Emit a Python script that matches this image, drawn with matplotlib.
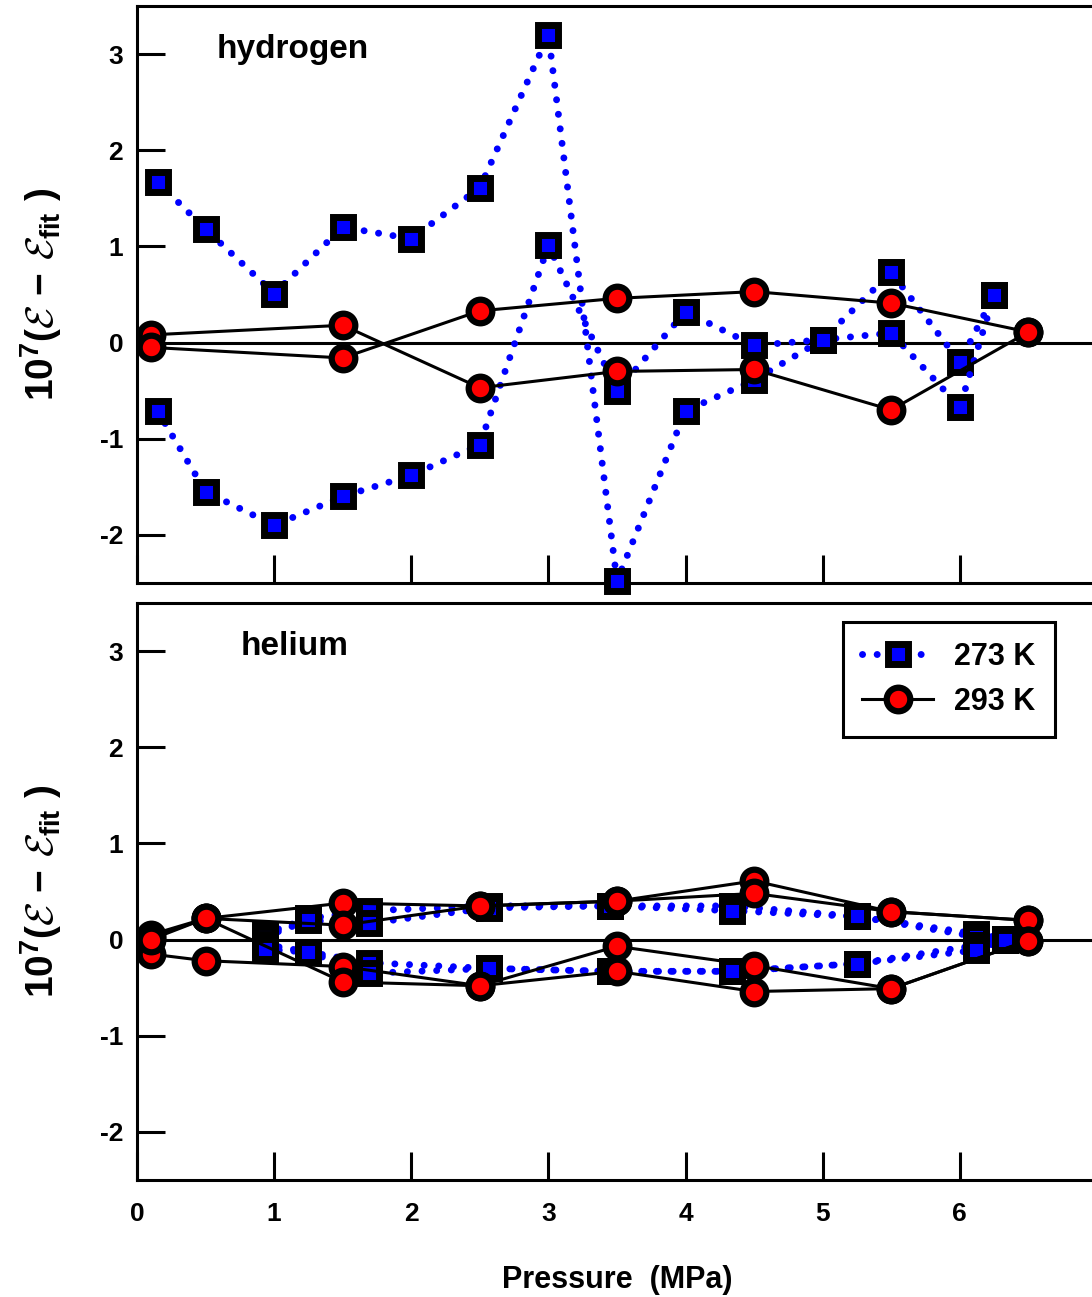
import numpy as np
import matplotlib
matplotlib.use("Agg")
import matplotlib.pyplot as plt

plt.rcParams['font.family'] = ['Liberation Sans', 'DejaVu Sans']
plt.rcParams['font.weight'] = 'bold'
plt.rcParams['axes.unicode_minus'] = False
plt.rcParams['mathtext.fontset'] = 'custom'
plt.rcParams['mathtext.rm'] = 'Liberation Sans:bold'
plt.rcParams['mathtext.it'] = 'Liberation Sans:bold:italic'
plt.rcParams['mathtext.bf'] = 'Liberation Sans:bold'
plt.rcParams['mathtext.cal'] = 'cmsy10'

# hydrogen, 273 K (two runs)
h2_273_p = [0.15, 0.5, 1.0, 1.5, 2.0, 2.5, 3.0, 3.5, 4.0, 4.5, 5.0, 5.5, 6.0, 6.25]
h2_273_a = [1.67, 1.18, 0.51, 1.20, 1.08, 1.61, 3.20, -2.48, -0.71, -0.39, 0.03, 0.73, -0.20, 0.49]
h2_273_b = [-0.71, -1.55, -1.90, -1.60, -1.38, -1.06, 1.01, -0.50, 0.32, -0.03, 0.03, 0.10, -0.67, 0.49]

# hydrogen, 293 K (two runs)
h2_293_p = [0.1, 1.5, 2.5, 3.5, 4.5, 5.5, 6.5]
h2_293_a = [0.08, 0.18, -0.47, -0.30, -0.28, -0.70, 0.11]
h2_293_b = [-0.05, -0.16, 0.33, 0.46, 0.53, 0.41, 0.11]

# helium, 273 K (four runs)
he_273_p = [0.93, 1.25, 1.69, 2.57, 3.45, 4.34, 5.25, 6.12, 6.33]
he_273_a = [0.06, 0.22, 0.30, 0.35, 0.35, 0.35, 0.24, 0.06, 0.01]
he_273_b = [0.03, 0.20, 0.17, 0.33, 0.35, 0.30, 0.24, 0.03, 0.01]
he_273_c = [-0.05, -0.13, -0.24, -0.30, -0.33, -0.33, -0.25, -0.06, 0.00]
he_273_d = [-0.10, -0.13, -0.35, -0.30, -0.33, -0.33, -0.25, -0.11, 0.00]

# helium, 293 K (four runs)
he_293_p = [0.1, 0.5, 1.5, 2.5, 3.5, 4.5, 5.5, 6.5]
he_293_a = [0.05, 0.22, 0.38, 0.35, 0.40, 0.61, 0.29, 0.20]
he_293_b = [0.02, 0.22, 0.15, 0.35, 0.40, 0.48, 0.29, 0.20]
he_293_c = [-0.15, -0.22, -0.28, -0.48, -0.07, -0.27, -0.51, -0.01]
he_293_d = [0.00, 0.22, -0.44, -0.48, -0.33, -0.54, -0.51, -0.01]

sq_style = dict(color='blue', lw=5, linestyle=(0, (0.01, 2.1)), dash_capstyle='round',
                marker='s', ms=14, mfc='blue', mec='black', mew=5, zorder=3)
ci_style = dict(color='black', lw=2.2, linestyle='-',
                marker='o', ms=17, mfc='red', mec='black', mew=4.5, zorder=4)


def draw_panel(ax, p273, runs273, p293, runs293, name, name_x):
    ax.axhline(0, color='black', lw=2.2, zorder=2)
    for y in runs273:
        ax.plot(p273, y, clip_on=False, **sq_style)
    for y in runs293:
        ax.plot(p293, y, clip_on=False, **ci_style)
    ax.set_xlim(0, 7)
    ax.set_ylim(-2.5, 3.5)
    ax.set_xticks(range(0, 7))
    ax.set_yticks([-2, -1, 0, 1, 2, 3])
    ax.tick_params(direction='in', length=20, width=2.2, labelsize=19)
    ax.tick_params(axis='x', pad=16)
    ax.tick_params(axis='y', pad=10)
    for s in ax.spines.values():
        s.set_linewidth(2.2)
    ax.text(name_x, 0.925, name, transform=ax.transAxes, fontsize=24,
            fontweight='bold', ha='left', va='center')
    ax.set_ylabel(r'$10^7(\mathcal{E}\,-\,\mathcal{E}_{\mathrm{fit}}\ )$', fontsize=28)
    ax.yaxis.set_label_coords(-0.076, 0.5)


fig = plt.figure(figsize=(10.92, 12.97), dpi=100)
ax1 = fig.add_axes([0.1255, 0.5505, 0.879, 0.4449])
ax2 = fig.add_axes([0.1255, 0.0902, 0.879, 0.4449])

draw_panel(ax1, h2_273_p, [h2_273_a, h2_273_b], h2_293_p, [h2_293_a, h2_293_b], 'hydrogen', 0.083)
draw_panel(ax2, he_273_p, [he_273_a, he_273_b, he_273_c, he_273_d],
           he_293_p, [he_293_a, he_293_b, he_293_c, he_293_d], 'helium', 0.108)

ax1.tick_params(axis='x', labelbottom=False)
ax2.set_xlabel('Pressure  (MPa)', fontsize=22, fontweight='bold', labelpad=28)

h1, = ax2.plot([], [], **sq_style)
h2, = ax2.plot([], [], **ci_style)
leg = ax2.legend([h1, h2], ['273 K', '293 K'], loc='upper left', bbox_to_anchor=(0.735, 0.967),
                 borderaxespad=0, fontsize=22, handlelength=2.3, handletextpad=0.7,
                 labelspacing=0.5, borderpad=0.65, fancybox=False, framealpha=1,
                 edgecolor='black')
leg.get_frame().set_linewidth(2.2)

fig.savefig('out.png', dpi=100)
